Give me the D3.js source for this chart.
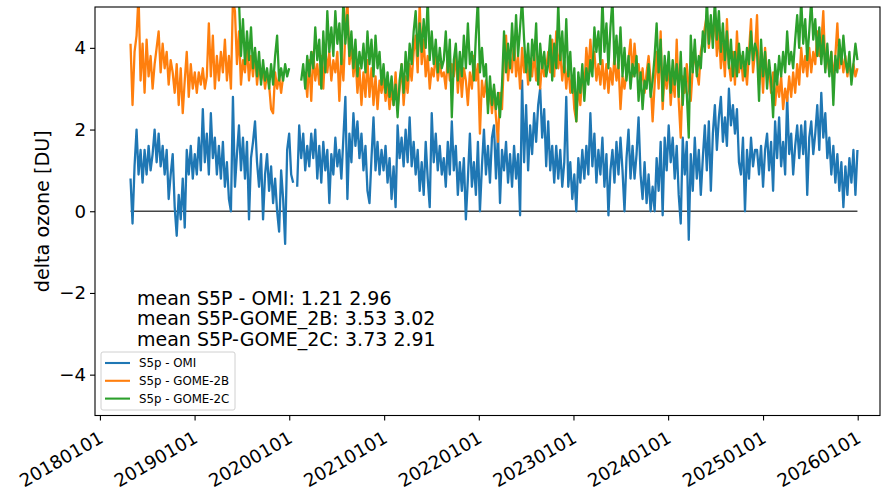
<!DOCTYPE html>
<html>
<head>
<meta charset="utf-8">
<script src="https://cdn.jsdelivr.net/npm/d3@7"></script>
<style>
  body { margin: 0; background: #ffffff; }
  svg { display: block; font-family: "DejaVu Sans", sans-serif; }
</style>
</head>
<body>
<svg></svg>
<script>
// series names, colours and the text block printed inside the plot
const seriesNames = ['S5p - OMI', 'S5p - GOME-2B', 'S5p - GOME-2C']
const seriesColors = ['#1f77b4', '#ff7f0e', '#2ca02c']
const meanLines = ['mean S5P - OMI: 1.21 2.96', 'mean S5P-GOME_2B: 3.53 3.02', 'mean S5P-GOME_2C: 3.73 2.91']

// tick labels
const xTickLabels = ['20180101', '20190101', '20200101', '20210101', '20220101', '20230101', '20240101', '20250101', '20260101']
const yTicks = [-4, -2, 0, 2, 4]

// the samples are spread evenly between these two days
const firstDay = '20180429'
const lastDay = '20251231'

// delta ozone [DU] (null = no data)
const omi = [
    0.8,-0.3,1.1,2.0,0.9,1.5,0.7,1.5,0.9,1.6,1.0,1.4,2.0,1.2,1.9,1.1,1.6,0.9,1.5,0.3,0.9,1.4,0.1,-0.6,0.4,-0.2,0.8,-0.4,1.5,0.9,1.6,0.8,1.4,0.9,1.8,1.0,2.5,1.2,1.9,0.9,2.4,1.3,1.8,0.9,1.6,0.8,1.7,0.6,1.2,0.3,0.0,2.8,
    0.6,1.4,2.1,1.0,1.8,0.8,1.7,-0.2,1.3,1.7,2.2,1.2,0.6,1.4,-0.2,0.9,1.4,0.5,1.1,0.2,0.8,0.0,-0.5,1.0,0.3,-0.8,1.5,1.9,0.9,0.7,null,0.6,2.1,1.3,1.9,1.0,1.6,1.1,1.9,1.3,2.0,0.8,1.6,0.7,1.7,1.0,1.5,0.2,1.4,0.9,1.8,1.1,
    1.5,0.8,1.8,2.8,0.3,1.9,1.2,2.4,1.6,2.2,1.3,1.9,1.0,1.6,0.5,0.2,1.3,2.3,1.0,1.7,0.9,1.5,1.0,1.6,0.7,1.3,0.3,1.1,0.1,2.1,1.3,1.8,1.1,2.0,1.2,2.3,1.1,1.7,0.9,1.5,0.5,1.2,0.4,1.7,0.8,0.1,2.4,1.2,1.9,1.0,1.6,0.9,
    1.3,0.6,1.7,0.9,2.2,1.0,1.6,0.4,1.2,0.5,1.3,-0.2,0.8,1.9,0.6,1.2,0.4,1.7,0.0,1.1,2.0,0.9,1.6,0.7,1.8,2.1,0.8,1.9,0.2,1.5,1.0,1.7,0.7,1.4,0.6,1.6,0.8,1.4,-0.1,3.2,1.2,2.6,1.0,2.1,1.4,2.4,1.7,2.6,3.0,1.8,2.5,1.1,
    2.2,1.0,1.6,0.7,1.6,0.8,1.5,0.6,1.2,2.8,0.6,1.2,0.3,0.9,0.0,1.3,0.7,1.5,0.8,1.6,0.9,2.4,1.1,1.9,0.7,1.5,0.9,1.8,0.6,1.4,-0.1,1.0,1.5,0.7,1.7,0.9,1.8,1.0,0.0,1.3,2.0,0.8,1.6,0.8,1.4,2.3,0.9,0.3,1.2,0.2,0.9,0.0,
    0.6,0.0,1.3,0.5,1.7,-0.1,1.8,1.0,2.1,1.2,1.8,0.8,1.6,0.4,-0.3,1.8,0.9,1.7,-0.7,1.4,0.5,1.8,0.8,1.5,0.4,1.3,2.1,1.0,2.2,0.5,1.9,2.6,1.5,2.3,2.8,1.7,2.3,1.6,3.0,2.1,2.6,1.9,2.5,1.2,0.9,1.8,0.0,1.5,0.8,1.8,1.1,1.5,
    1.5,0.9,1.6,0.6,1.5,1.9,1.0,1.7,0.5,2.2,1.3,2.3,1.1,1.7,0.9,2.8,1.4,1.9,0.9,1.6,2.1,1.3,2.1,1.4,2.2,0.4,1.8,2.2,1.4,1.9,2.6,1.5,2.9,1.8,2.4,1.3,1.8,0.9,1.6,0.7,1.4,0.5,1.2,0.1,1.1,0.4,1.3,0.7,1.5,0.4,1.5
]

const gome2b = [
    4.1,2.6,3.9,4.3,5.3,3.2,4.1,2.9,4.2,3.3,3.8,3.0,3.6,4.0,4.4,3.4,4.1,3.5,3.9,3.1,3.7,3.4,2.9,3.6,2.6,3.5,2.4,3.2,3.9,2.8,3.6,3.0,3.4,2.9,3.4,3.1,3.5,3.0,3.3,4.6,3.3,4.3,3.0,3.8,3.2,3.9,3.4,4.2,3.2,3.8,3.0,5.2,
    4.9,3.6,4.4,3.1,3.7,3.4,4.0,3.2,3.8,3.3,3.9,3.1,3.6,3.2,3.5,3.0,3.4,3.1,2.5,2.4,3.4,3.0,3.3,2.9,3.3,null,null,null,null,null,null,null,null,null,null,3.4,2.8,3.7,2.7,3.9,3.2,3.6,3.1,3.8,3.0,4.0,3.4,3.9,3.2,3.7,3.4,3.9,
    2.7,3.9,3.2,4.4,5.2,3.6,4.1,3.3,3.8,2.9,3.5,2.6,3.4,2.8,3.7,2.8,3.5,2.6,3.3,2.5,3.2,2.9,3.3,2.7,3.1,2.5,3.0,2.6,3.4,2.5,3.0,3.6,2.6,3.3,2.9,3.6,3.2,3.9,4.3,3.4,5.1,3.6,4.2,3.3,3.8,3.0,3.5,3.3,3.9,3.2,3.6,3.3,
    3.4,3.0,3.8,3.2,3.6,3.3,3.9,2.9,3.6,2.8,3.5,3.2,2.6,3.4,3.0,3.8,3.2,3.6,1.9,3.2,2.8,3.2,2.6,3.0,2.4,3.0,2.3,1.7,2.9,2.5,3.8,4.3,3.2,3.8,3.4,4.2,3.3,3.8,3.0,4.0,3.4,3.8,3.1,3.6,3.3,3.9,3.2,3.6,3.0,3.7,3.3,3.5,
    3.9,3.4,4.2,3.3,4.4,3.5,3.9,3.2,3.7,3.0,3.6,2.9,3.3,2.5,2.2,3.1,2.6,3.4,3.0,4.0,3.4,4.2,3.5,3.9,3.2,3.6,3.1,3.7,3.0,3.6,2.9,3.5,3.1,3.8,3.2,3.6,2.5,3.3,3.0,3.4,3.7,4.2,3.3,4.1,3.4,3.6,3.1,3.5,2.9,3.4,3.8,3.2,
    2.2,3.1,3.9,3.0,4.4,2.5,3.4,3.0,3.7,2.6,3.3,2.8,4.2,2.7,1.8,3.3,2.9,3.6,3.0,2.7,3.5,3.9,3.4,3.1,3.9,4.2,4.5,4.8,4.0,4.6,4.2,4.9,3.8,4.4,3.5,4.1,3.3,4.7,3.6,3.2,3.9,3.1,4.4,3.4,3.8,3.2,3.6,3.1,3.9,4.7,3.4,3.9,
    4.8,3.1,3.8,2.9,4.0,3.3,3.5,2.9,3.4,2.6,3.2,2.8,3.3,2.5,3.0,2.7,3.3,2.8,3.4,2.9,3.6,3.1,4.0,3.4,3.8,3.3,4.0,3.4,3.9,3.6,4.4,3.8,4.1,4.9,3.5,3.8,3.4,3.9,3.2,3.8,4.6,3.5,3.9,3.4,3.8,3.3,3.7,3.2,3.6,3.3,3.5
]

const gome2c = [
    null,null,null,null,null,null,null,null,null,null,null,null,null,null,null,null,null,null,null,null,null,null,null,null,null,null,null,null,null,null,null,null,null,null,null,null,null,null,null,null,null,null,null,null,null,null,null,null,null,null,null,null,
    null,null,5.2,3.8,4.7,3.6,4.4,3.7,4.5,3.5,4.0,3.3,3.9,3.1,3.7,3.2,3.5,3.0,3.6,3.1,3.8,4.3,3.2,3.5,3.2,3.6,3.3,3.5,null,null,null,null,null,3.2,3.6,3.0,3.8,3.3,3.9,3.5,4.5,3.7,4.2,3.0,4.4,3.4,4.9,3.9,4.5,3.8,4.9,4.1,
    4.6,3.6,5.2,4.1,4.8,3.8,4.4,3.5,4.2,3.3,3.9,3.5,4.1,3.4,4.4,3.6,4.2,3.3,4.3,3.5,3.9,3.1,3.6,2.9,3.4,2.8,3.3,2.6,3.1,2.3,3.2,3.6,2.9,3.9,3.2,4.1,3.6,4.4,4.9,3.8,4.6,3.9,4.7,4.0,5.2,3.7,4.4,3.6,4.2,3.4,4.0,3.5,
    3.7,4.4,3.4,4.2,2.3,3.7,4.1,3.2,3.9,3.3,4.3,3.5,4.6,3.6,3.9,3.2,4.3,5.2,3.4,4.0,3.3,3.6,2.4,3.3,2.6,3.1,2.5,2.9,2.3,3.1,4.4,3.4,4.1,3.5,4.6,3.7,4.8,3.8,4.5,5.2,4.2,3.4,4.1,3.2,4.2,3.7,4.6,3.1,4.1,3.5,3.9,3.3,
    3.6,4.3,3.2,4.1,3.5,5.1,3.7,4.4,3.4,4.7,3.3,3.9,2.9,3.5,2.2,3.4,2.9,3.6,2.7,3.5,3.1,3.7,3.3,4.5,3.9,4.4,3.6,5.2,3.9,4.6,3.5,4.5,5.2,3.6,4.3,3.5,4.5,3.3,4.0,3.2,3.8,3.0,3.6,3.3,3.8,2.7,3.4,2.5,3.2,3.0,3.6,2.8,
    3.2,3.8,4.6,3.4,4.2,2.7,3.8,3.2,3.9,2.9,3.7,3.1,3.6,2.8,3.9,2.6,3.5,2.9,1.8,4.3,3.4,4.2,3.3,3.8,3.5,4.4,3.9,5.2,4.1,4.8,4.0,5.2,4.2,4.9,3.9,4.6,3.7,4.4,3.5,4.2,3.3,3.9,3.3,4.1,3.5,3.9,3.3,4.0,3.6,4.4,3.7,4.1,
    3.9,2.7,4.2,3.3,3.9,3.0,3.7,3.2,2.3,3.6,3.1,3.8,3.3,3.9,3.4,4.4,3.6,3.9,3.5,4.2,4.8,4.0,5.2,4.1,4.7,3.7,4.4,5.2,4.2,4.7,3.8,4.5,3.6,4.3,3.4,4.1,3.3,3.9,2.6,3.8,3.4,4.2,3.6,4.3,3.7,3.4,3.9,3.1,3.6,4.1,3.7
]


const renderChart = () => {

    const width = 883
    const height = 493

    //space round the axes box, the box itself runs from x 95 to 880 and y 7 to 415.5
    const margin = { top: 7, right: 3, bottom: 77.5, left: 95 }
    const innerWidth = width - margin.left - margin.right
    const innerHeight = height - margin.top - margin.bottom

    const tickFont = 18.2
    const parseDay = d3.timeParse('%Y%m%d')

    const t0 = parseDay(firstDay)
    const t1 = parseDay(lastDay)
    const n = omi.length
    const sampleDate = i => new Date(+t0 + i * (t1 - t0) / (n - 1))

    const xScale = d3.scaleTime()
        .domain([new Date(2017, 11, 13), new Date(2026, 2, 28)])
        .range([0, innerWidth])

    const yScale = d3.scaleLinear()
        .domain([-5, 5])
        .range([innerHeight, 0])

    const svg = d3.select('svg')
        .attr('width', width)
        .attr('height', height)

    svg.append('defs').append('clipPath')
        .attr('id', 'clip')
        .append('rect')
        .attr('width', innerWidth)
        .attr('height', innerHeight)

    const g = svg.append('g')
        .attr('transform', `translate(${margin.left}, ${margin.top})`)

    //zero line from the first to the last sample
    g.append('line')
        .attr('x1', xScale(t0))
        .attr('x2', xScale(t1))
        .attr('y1', yScale(0))
        .attr('y2', yScale(0))
        .style('stroke', '#444')
        .style('stroke-width', 1.5)

    const line = d3.line()
        .defined(d => d.v !== null)
        .x(d => xScale(d.date))
        .y(d => yScale(d.v))

    const allSeries = [omi, gome2b, gome2c]

    allSeries.forEach((values, k) => {
        const pts = values.map((v, i) => ({ date: sampleDate(i), v: v }))
        g.append('path')
            .datum(pts)
            .attr('clip-path', 'url(#clip)')
            .attr('d', line)
            .style('fill', 'none')
            .style('stroke', seriesColors[k])
            .style('stroke-width', 2.3)
            .style('stroke-linejoin', 'round')
    })

    //axes
    const xAxis = d3.axisBottom(xScale)
        .tickValues(xTickLabels.map(parseDay))
        .tickFormat(d3.timeFormat('%Y%m%d'))
        .tickSize(5)
        .tickSizeOuter(0)

    const yAxis = d3.axisLeft(yScale)
        .tickValues(yTicks)
        .tickSize(5)
        .tickPadding(4)
        .tickSizeOuter(0)

    const xAxisG = g.append('g')
        .attr('transform', `translate(0, ${innerHeight})`)
        .call(xAxis)

    //rotated date labels, right end tucked under the tick
    xAxisG.selectAll('.tick text')
        .attr('x', 0)
        .attr('y', 0)
        .attr('dy', 0)
        .attr('text-anchor', 'end')
        .attr('transform', 'translate(4, 26) rotate(-30)')

    const yAxisG = g.append('g').call(yAxis)

    g.selectAll('.domain').remove()
    g.selectAll('.tick line').style('stroke', '#000').style('stroke-width', 1.1)
    g.selectAll('.tick text')
        .style('font-family', '"DejaVu Sans", sans-serif')
        .style('font-size', tickFont + 'px')
        .style('fill', '#000')

    //box round the plot
    g.append('rect')
        .attr('width', innerWidth)
        .attr('height', innerHeight)
        .style('fill', 'none')
        .style('stroke', '#000')
        .style('stroke-width', 1.1)

    svg.append('text')
        .attr('transform', `translate(49, ${margin.top + innerHeight / 2}) rotate(-90)`)
        .attr('text-anchor', 'middle')
        .style('font-size', '19.2px')
        .text('delta ozone [DU]')

    //mean / std text
    const note = svg.append('text')
        .attr('x', 137)
        .attr('y', 304.5)
        .style('font-size', '19px')

    note.selectAll('tspan')
        .data(meanLines)
        .enter()
        .append('tspan')
            .attr('x', 137)
            .attr('dy', (d, i) => i === 0 ? 0 : 20.8)
            .text(d => d)

    //legend
    const legend = svg.append('g')
        .attr('transform', 'translate(101, 352)')

    legend.append('rect')
        .attr('width', 134)
        .attr('height', 58)
        .attr('rx', 2)
        .style('fill', '#fff')
        .style('fill-opacity', 0.8)
        .style('stroke', '#d0d0d0')
        .style('stroke-width', 1)

    const rows = legend.selectAll('.row')
        .data(seriesNames)
        .enter()
        .append('g')
            .attr('class', 'row')
            .attr('transform', (d, i) => `translate(0, ${11 + i * 17.8})`)

    rows.append('line')
        .attr('x1', 4)
        .attr('x2', 29)
        .style('stroke', (d, i) => seriesColors[i])
        .style('stroke-width', 2.1)

    rows.append('text')
        .attr('x', 38)
        .attr('dy', '0.35em')
        .style('font-size', '11.8px')
        .text(d => d)
}

renderChart()
</script>
</body>
</html>
